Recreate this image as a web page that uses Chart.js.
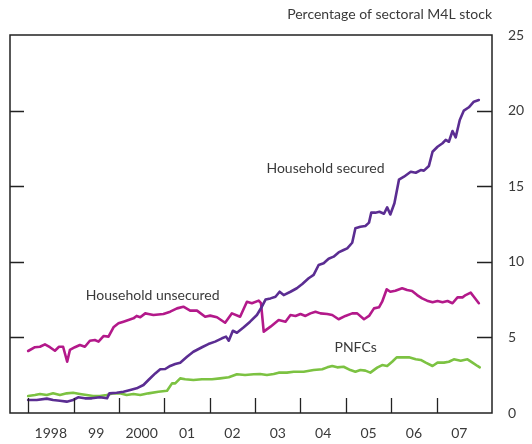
<!DOCTYPE html>
<html>
<head>
<meta charset="utf-8">
<script src="https://cdn.jsdelivr.net/npm/chart.js@4/dist/chart.umd.min.js"></script>
<style>
  html, body { margin: 0; padding: 0; background: #fff; }
  #wrap { width: 532px; height: 444px; }
</style>
</head>
<body>
<div id="wrap"><canvas id="myChart" width="532" height="444"></canvas></div>
<script>
// decimal years / values
let securedX = [1998.00, 1998.19, 1998.41, 1998.55, 1998.70, 1998.85, 1998.99, 1999.10, 1999.25, 1999.40, 1999.58, 1999.74, 1999.79, 1999.95,
    2000.10, 2000.25, 2000.39, 2000.54, 2000.65, 2000.80, 2000.91, 2001.02, 2001.13, 2001.24, 2001.35, 2001.50, 2001.64, 2001.83, 2001.97,
    2002.12, 2002.27, 2002.36, 2002.42, 2002.51, 2002.60, 2002.75, 2002.89, 2003.04, 2003.15, 2003.23, 2003.34, 2003.45, 2003.54, 2003.63,
    2003.78, 2003.92, 2004.04, 2004.18, 2004.29, 2004.40, 2004.51, 2004.62, 2004.73, 2004.84, 2004.95, 2005.03, 2005.14, 2005.21, 2005.32,
    2005.43, 2005.51, 2005.56, 2005.65, 2005.74, 2005.84, 2005.91, 2005.98, 2006.07, 2006.17, 2006.28, 2006.43, 2006.54, 2006.65, 2006.72,
    2006.83, 2006.91, 2007.02, 2007.13, 2007.20, 2007.27, 2007.35, 2007.42, 2007.51, 2007.60, 2007.71, 2007.82, 2007.93];
let securedY = [0.86, 0.86, 0.95, 0.86, 0.81, 0.75, 0.86, 1.04, 0.97, 0.97, 1.04, 0.97, 1.30, 1.34,
    1.41, 1.52, 1.63, 1.85, 2.18, 2.62, 2.89, 2.91, 3.11, 3.24, 3.33, 3.72, 4.05, 4.35, 4.56,
    4.72, 4.94, 5.05, 4.78, 5.44, 5.31, 5.67, 6.04, 6.48, 7.03, 7.50, 7.58, 7.69, 8.02, 7.80,
    8.02, 8.25, 8.53, 8.91, 9.13, 9.79, 9.90, 10.20, 10.34, 10.62, 10.78, 10.89, 11.26, 12.22, 12.32,
    12.37, 12.59, 13.25, 13.25, 13.31, 13.18, 13.60, 13.13, 13.87, 15.43, 15.63, 15.96, 15.89, 16.07, 16.03,
    16.34, 17.28, 17.61, 17.84, 18.06, 17.94, 18.65, 18.23, 19.38, 20.00, 20.22, 20.59, 20.70];

let unsecuredX = [1998.00, 1998.15, 1998.26, 1998.37, 1998.48, 1998.59, 1998.68, 1998.77, 1998.86, 1998.92, 1999.03, 1999.14, 1999.25,
    1999.36, 1999.47, 1999.55, 1999.66, 1999.77, 1999.88, 1999.99, 2000.10, 2000.21, 2000.32, 2000.39, 2000.47, 2000.58, 2000.65,
    2000.76, 2000.98, 2001.13, 2001.28, 2001.42, 2001.57, 2001.72, 2001.90, 2002.01, 2002.16, 2002.34, 2002.49, 2002.67, 2002.82,
    2002.93, 2003.08, 2003.13, 2003.19, 2003.34, 2003.52, 2003.67, 2003.78, 2003.89, 2004.00, 2004.11, 2004.22, 2004.33, 2004.44,
    2004.59, 2004.70, 2004.84, 2004.99, 2005.14, 2005.25, 2005.40, 2005.51, 2005.62, 2005.73, 2005.80, 2005.90, 2005.98, 2006.09,
    2006.24, 2006.35, 2006.46, 2006.57, 2006.68, 2006.79, 2006.91, 2007.02, 2007.13, 2007.24, 2007.35, 2007.46, 2007.57, 2007.64,
    2007.75, 2007.82, 2007.93];
let unsecuredY = [4.10, 4.35, 4.38, 4.54, 4.35, 4.12, 4.38, 4.38, 3.39, 4.17, 4.35, 4.50, 4.38,
    4.78, 4.83, 4.72, 5.09, 5.05, 5.67, 5.93, 6.04, 6.15, 6.26, 6.42, 6.33, 6.59, 6.55,
    6.48, 6.55, 6.70, 6.92, 7.03, 6.77, 6.77, 6.37, 6.44, 6.33, 5.97, 6.59, 6.37, 7.36,
    7.26, 7.43, 7.26, 5.38, 5.71, 6.15, 6.04, 6.48, 6.42, 6.55, 6.42, 6.59, 6.70, 6.59,
    6.55, 6.48, 6.20, 6.42, 6.59, 6.59, 6.20, 6.42, 6.92, 6.99, 7.36, 8.18, 8.02, 8.09,
    8.25, 8.13, 8.07, 7.80, 7.58, 7.43, 7.32, 7.41, 7.32, 7.41, 7.26, 7.65, 7.65, 7.80,
    7.96, 7.69, 7.26];

let pnfcX = [1998.00, 1998.15, 1998.26, 1998.41, 1998.55, 1998.70, 1998.85, 1998.99, 1999.14, 1999.29, 1999.43, 1999.58, 1999.73,
    1999.88, 2000.02, 2000.17, 2000.32, 2000.47, 2000.65, 2000.87, 2001.06, 2001.17, 2001.24, 2001.35, 2001.46, 2001.64, 2001.83,
    2002.05, 2002.23, 2002.42, 2002.60, 2002.78, 2002.97, 2003.11, 2003.26, 2003.41, 2003.52, 2003.70, 2003.85, 2004.07, 2004.29,
    2004.48, 2004.59, 2004.70, 2004.81, 2004.95, 2005.10, 2005.21, 2005.32, 2005.43, 2005.54, 2005.69, 2005.80, 2005.91, 2006.02,
    2006.12, 2006.24, 2006.39, 2006.54, 2006.65, 2006.76, 2006.91, 2007.02, 2007.16, 2007.27, 2007.38, 2007.53, 2007.68, 2007.79,
    2007.90, 2007.95];
let pnfcY = [1.12, 1.19, 1.26, 1.19, 1.30, 1.19, 1.30, 1.34, 1.26, 1.19, 1.12, 1.12, 1.19,
    1.30, 1.30, 1.19, 1.26, 1.19, 1.30, 1.41, 1.47, 1.96, 1.96, 2.29, 2.23, 2.18, 2.23,
    2.23, 2.29, 2.36, 2.56, 2.51, 2.56, 2.58, 2.51, 2.58, 2.67, 2.67, 2.73, 2.73, 2.84,
    2.89, 3.02, 3.11, 3.02, 3.06, 2.84, 2.73, 2.84, 2.80, 2.67, 3.00, 3.17, 3.11, 3.39,
    3.68, 3.68, 3.68, 3.55, 3.51, 3.33, 3.11, 3.33, 3.33, 3.39, 3.55, 3.46, 3.55, 3.33,
    3.11, 3.02];

let years = [1998, 1999, 2000, 2001, 2002, 2003, 2004, 2005, 2006, 2007];
let yearLabels = ["1998", "99", "2000", "01", "02", "03", "04", "05", "06", "07"];
let yTicks = [0, 5, 10, 15, 20, 25];

let seriesLabels = [
    { text: "Household secured", x: 2003.25, y: 16.2 },
    { text: "Household unsecured", x: 1999.27, y: 7.74 },
    { text: "PNFCs", x: 2004.75, y: 4.3 }
];

const FONT = "Lato, 'Open Sans', sans-serif";
const TEXT = "#3a3a3a";

function points(xs, ys) {
    return xs.map((x, i) => ({ x: x, y: ys[i] }));
}

// box, inward tick marks, unit title and in-chart labels
const decorations = {
    id: 'decorations',
    afterDatasetsDraw(chart) {
        const { ctx, chartArea: a, scales: { x, y } } = chart;
        ctx.save();
        ctx.strokeStyle = "#222";
        ctx.lineWidth = 1.5;
        ctx.strokeRect(a.left, a.top, a.right - a.left, a.bottom - a.top);

        ctx.lineWidth = 1.3;
        ctx.beginPath();
        years.forEach(yr => {
            let px = Math.round(x.getPixelForValue(yr)) + 0.5;
            ctx.moveTo(px, a.bottom);
            ctx.lineTo(px, a.bottom - 15);
        });
        [5, 10, 15, 20].forEach(v => {
            let py = Math.round(y.getPixelForValue(v)) + 0.5;
            ctx.moveTo(a.left, py);
            ctx.lineTo(a.left + 14, py);
            ctx.moveTo(a.right - 15, py);
            ctx.lineTo(a.right, py);
        });
        ctx.stroke();

        ctx.fillStyle = TEXT;
        ctx.font = "14px " + FONT;
        ctx.textBaseline = "middle";
        ctx.textAlign = "right";
        ctx.fillText("Percentage of sectoral M4L stock", a.right, 14);

        ctx.textAlign = "left";
        seriesLabels.forEach(l => {
            ctx.fillText(l.text, x.getPixelForValue(l.x), y.getPixelForValue(l.y));
        });
        ctx.restore();
    }
};

const ctx = document.getElementById('myChart').getContext('2d');
const myChart = new Chart(ctx, {
    type: 'line',
    data: {
        datasets: [{
            label: "Household secured",
            data: points(securedX, securedY),
            borderColor: "#5b2d92",
        }, {
            label: "Household unsecured",
            data: points(unsecuredX, unsecuredY),
            borderColor: "#b3198a",
        }, {
            label: "PNFCs",
            data: points(pnfcX, pnfcY),
            borderColor: "#7cc242",
        }]
    },
    options: {
        responsive: false,
        animation: false,
        parsing: false,
        layout: { padding: { left: 10, top: 35, right: 0, bottom: 0 } },
        elements: {
            point: { radius: 0 },
            line: { borderWidth: 2.6, tension: 0, borderJoinStyle: 'round', borderCapStyle: 'round' }
        },
        plugins: {
            legend: { display: false },
            tooltip: { enabled: false }
        },
        scales: {
            x: {
                type: 'linear',
                min: 1997.6,
                max: 2008.22,
                grid: { display: false },
                border: { display: false },
                afterBuildTicks: (scale) => {
                    scale.ticks = years.map(yr => ({ value: yr + 0.5 }));
                },
                ticks: {
                    autoSkip: false,
                    maxRotation: 0,
                    padding: 4,
                    color: TEXT,
                    font: { family: FONT, size: 14 },
                    callback: (value) => yearLabels[years.indexOf(Math.round(value - 0.5))]
                },
                afterFit: (scale) => { scale.height = 31; }
            },
            y: {
                position: 'right',
                min: 0,
                max: 25,
                grid: { display: false },
                border: { display: false },
                afterBuildTicks: (scale) => {
                    scale.ticks = yTicks.map(v => ({ value: v }));
                },
                ticks: {
                    padding: 8,
                    color: TEXT,
                    font: { family: FONT, size: 14 }
                },
                afterFit: (scale) => { scale.width = 40; }
            }
        }
    },
    plugins: [decorations]
});
</script>
</body>
</html>
